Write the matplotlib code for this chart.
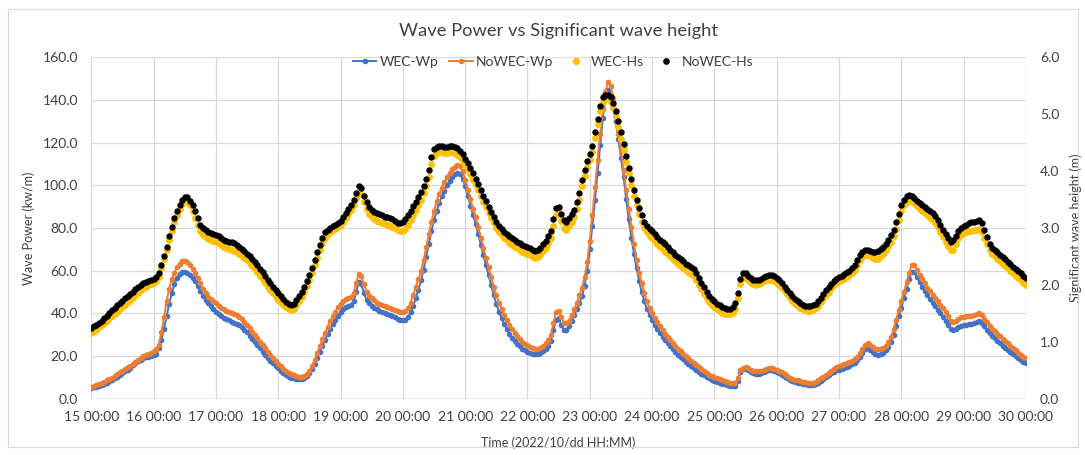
import numpy as np
import pandas as pd
import matplotlib
matplotlib.use("Agg")
import matplotlib.pyplot as plt
import matplotlib.dates as mdates
from matplotlib.lines import Line2D
from matplotlib.patches import Rectangle

plt.rcParams['font.family'] = ['Lato', 'DejaVu Sans']

# hourly series, 2022-10-15 00:00 .. 2022-10-30 00:00
wec_wp = [
    4.9, 5.2, 5.6, 6.0, 6.4, 6.9, 7.4, 8.0, 8.7, 9.5, 10.3, 11.1, 11.9, 12.7, 13.6, 14.5, 15.5, 16.5, 17.4, 18.2, 18.8, 19.3, 19.7, 20.0,
    20.3, 21.0, 23.5, 27.5, 32.5, 38.5, 44.5, 49.5, 53.5, 56.5, 58.3, 59.3, 59.5, 59.0, 57.8, 56.5, 55.0, 52.8, 50.5, 48.2, 46.3, 44.6, 43.2, 42.0,
    40.8, 39.5, 38.5, 37.7, 37.1, 36.6, 36.1, 35.6, 35.0, 34.3, 33.4, 32.3, 31.0, 29.5, 28.0, 26.5, 25.0, 23.5, 22.0, 20.6, 19.2, 17.8, 16.5, 15.3,
    14.1, 12.9, 11.8, 10.9, 10.2, 9.7, 9.4, 9.2, 9.1, 9.2, 9.6, 10.4, 11.8, 13.8, 16.4, 19.2, 22.0, 24.8, 27.6, 30.3, 32.8, 35.0, 37.0, 38.8,
    40.5, 42.0, 43.0, 43.5, 44.0, 45.5, 50.0, 54.5, 53.5, 49.5, 46.3, 44.7, 43.6, 42.6, 41.8, 41.1, 40.5, 40.0, 39.5, 39.0, 38.5, 38.0, 37.5, 37.0,
    36.7, 37.0, 38.3, 40.5, 43.5, 47.0, 51.0, 55.5, 60.5, 66.5, 72.5, 78.5, 83.5, 88.0, 91.8, 94.8, 97.5, 100.0, 102.0, 103.8, 105.2, 106.0, 105.5, 103.0,
    99.5, 95.0, 90.5, 86.0, 81.8, 77.2, 72.2, 67.2, 62.5, 57.8, 53.2, 48.6, 44.4, 40.8, 37.8, 35.0, 32.6, 30.4, 28.6, 27.0, 25.6, 24.4, 23.4, 22.6,
    22.0, 21.5, 21.1, 21.0, 21.0, 21.4, 22.1, 23.2, 24.6, 27.0, 32.0, 37.0, 37.8, 34.5, 32.2, 32.2, 34.0, 36.5, 39.0, 41.8, 44.8, 48.0, 53.0, 60.0,
    70.0, 81.0, 93.0, 106.0, 119.0, 131.5, 140.5, 144.7, 142.5, 137.0, 130.0, 121.5, 113.0, 104.0, 93.5, 84.0, 75.5, 68.0, 61.0, 55.0, 49.8, 45.5, 42.0, 39.2,
    36.8, 34.7, 32.7, 30.8, 29.0, 27.4, 25.9, 24.5, 23.1, 21.8, 20.6, 19.4, 18.3, 17.2, 16.2, 15.2, 14.3, 13.4, 12.5, 11.6, 10.8, 10.1, 9.5, 8.9,
    8.4, 7.9, 7.4, 7.0, 6.6, 6.2, 5.9, 5.7, 5.9, 8.0, 12.3, 13.7, 14.0, 13.4, 12.6, 12.0, 11.7, 11.6, 11.9, 12.4, 12.9, 13.2, 13.2, 13.0,
    12.6, 12.0, 11.2, 10.3, 9.5, 8.8, 8.3, 7.9, 7.5, 7.2, 6.9, 6.7, 6.5, 6.4, 6.5, 6.9, 7.5, 8.3, 9.2, 10.1, 11.0, 11.8, 12.6, 13.2,
    13.6, 14.0, 14.4, 14.9, 15.4, 16.0, 16.8, 17.9, 19.4, 21.3, 23.2, 23.7, 22.6, 21.6, 20.9, 20.6, 20.7, 21.3, 22.6, 24.2, 26.6, 29.8, 34.0, 38.5,
    42.5, 47.0, 51.5, 56.0, 59.3, 59.5, 57.0, 54.5, 52.5, 50.4, 48.4, 46.6, 44.9, 43.2, 41.6, 40.0, 38.3, 36.5, 34.5, 32.5, 32.0, 32.8, 33.6, 34.2,
    34.5, 34.7, 34.8, 35.0, 35.4, 35.9, 36.2, 35.2, 33.8, 32.2, 30.7, 29.4, 28.2, 27.0, 25.9, 24.8, 23.8, 22.8, 21.8, 20.8, 19.8, 18.9, 18.0, 17.3,
    16.7,
]

nowec_wp = [
    5.3, 5.8, 6.3, 6.8, 7.3, 7.9, 8.5, 9.1, 9.8, 10.6, 11.4, 12.2, 13.0, 13.8, 14.6, 15.4, 16.3, 17.2, 18.1, 19.0, 19.8, 20.5, 21.0, 21.5,
    22.3, 23.0, 25.0, 31.0, 38.0, 45.5, 51.5, 56.0, 59.0, 61.5, 63.2, 64.3, 64.7, 64.0, 62.5, 60.8, 59.0, 56.5, 54.0, 51.5, 49.5, 47.8, 46.5, 45.5,
    44.7, 43.6, 42.6, 41.8, 41.2, 40.7, 40.3, 39.8, 39.1, 38.2, 37.2, 36.0, 34.6, 33.0, 31.4, 29.8, 28.2, 26.6, 25.0, 23.5, 22.0, 20.5, 19.0, 17.7,
    16.4, 15.2, 14.0, 12.9, 12.0, 11.3, 10.8, 10.5, 10.3, 10.3, 10.6, 11.5, 13.0, 15.2, 18.1, 21.3, 24.5, 27.7, 30.7, 33.5, 36.2, 38.6, 40.8, 42.8,
    44.5, 45.8, 46.7, 47.3, 47.8, 49.5, 54.0, 58.5, 57.5, 53.5, 50.0, 48.2, 47.0, 46.0, 45.0, 44.3, 43.8, 43.3, 42.9, 42.5, 42.0, 41.5, 41.0, 40.7,
    40.5, 41.0, 42.5, 45.0, 48.5, 52.5, 56.0, 60.0, 65.0, 71.0, 77.0, 83.0, 88.0, 92.5, 96.0, 98.8, 101.5, 103.8, 105.8, 107.5, 108.8, 109.6, 109.0, 106.5,
    102.5, 98.0, 93.5, 89.0, 85.0, 80.5, 75.5, 70.5, 66.0, 61.5, 57.0, 52.5, 48.5, 45.0, 42.0, 39.3, 36.8, 34.5, 32.5, 30.7, 29.2, 27.8, 26.6, 25.7,
    25.0, 24.3, 23.7, 23.3, 23.3, 23.7, 24.5, 25.8, 27.5, 30.0, 35.5, 40.8, 41.0, 38.0, 35.5, 35.3, 36.5, 39.0, 42.0, 45.0, 48.5, 52.0, 57.0, 64.0,
    74.0, 86.0, 99.0, 112.0, 124.0, 136.0, 144.0, 148.3, 146.5, 141.0, 133.0, 124.0, 116.0, 107.0, 98.0, 89.0, 80.5, 72.5, 65.0, 59.0, 54.0, 49.5, 45.5, 42.5,
    40.0, 37.8, 35.8, 33.8, 32.0, 30.4, 28.8, 27.4, 26.0, 24.7, 23.4, 22.2, 21.0, 19.9, 18.8, 17.7, 16.6, 15.6, 14.6, 13.7, 12.8, 12.0, 11.2, 10.5,
    10.0, 9.5, 9.0, 8.6, 8.2, 7.8, 7.5, 7.3, 7.5, 9.5, 13.5, 14.5, 14.8, 14.3, 13.6, 13.0, 12.7, 12.7, 13.0, 13.5, 14.0, 14.3, 14.3, 14.0,
    13.6, 13.0, 12.2, 11.3, 10.5, 9.8, 9.3, 8.9, 8.5, 8.2, 7.9, 7.6, 7.4, 7.3, 7.4, 7.8, 8.5, 9.4, 10.3, 11.2, 12.1, 13.0, 13.9, 14.6,
    15.3, 15.7, 16.1, 16.6, 17.1, 17.7, 18.5, 19.6, 21.2, 23.2, 25.3, 26.0, 25.0, 24.0, 23.3, 23.0, 23.0, 23.5, 24.8, 26.5, 29.0, 32.5, 37.0, 41.5,
    45.5, 50.0, 54.5, 59.0, 62.5, 62.8, 60.5, 58.0, 56.0, 54.0, 52.0, 50.3, 48.7, 47.0, 45.5, 44.0, 42.3, 40.5, 38.5, 36.5, 35.8, 36.5, 37.4, 38.0,
    38.3, 38.5, 38.6, 38.8, 39.2, 39.7, 40.0, 39.0, 37.5, 35.8, 34.2, 32.8, 31.5, 30.3, 29.2, 28.1, 27.0, 25.9, 24.8, 23.7, 22.6, 21.5, 20.5, 19.6,
    18.8,
]

wec_hs = [
    1.15, 1.18, 1.21, 1.25, 1.29, 1.33, 1.37, 1.41, 1.45, 1.49, 1.53, 1.57, 1.61, 1.65, 1.69, 1.73, 1.77, 1.82, 1.86, 1.90, 1.94, 1.97, 1.99, 2.01,
    2.03, 2.07, 2.14, 2.29, 2.45, 2.62, 2.79, 2.95, 3.10, 3.22, 3.33, 3.42, 3.47, 3.46, 3.40, 3.30, 3.18, 3.05, 2.94, 2.88, 2.84, 2.81, 2.79, 2.77,
    2.75, 2.73, 2.70, 2.67, 2.65, 2.63, 2.62, 2.60, 2.57, 2.54, 2.50, 2.47, 2.43, 2.38, 2.33, 2.28, 2.22, 2.16, 2.10, 2.04, 1.97, 1.91, 1.85, 1.79,
    1.74, 1.69, 1.65, 1.61, 1.57, 1.55, 1.58, 1.64, 1.71, 1.79, 1.88, 1.98, 2.09, 2.21, 2.34, 2.48, 2.61, 2.73, 2.83, 2.89, 2.93, 2.96, 2.99, 3.02,
    3.06, 3.11, 3.17, 3.24, 3.32, 3.41, 3.52, 3.64, 3.60, 3.46, 3.33, 3.25, 3.20, 3.16, 3.13, 3.11, 3.09, 3.07, 3.06, 3.04, 3.02, 3.00, 2.97, 2.95,
    2.95, 2.99, 3.06, 3.14, 3.22, 3.31, 3.40, 3.50, 3.61, 3.74, 3.90, 4.12, 4.27, 4.32, 4.33, 4.33, 4.32, 4.32, 4.33, 4.33, 4.31, 4.28, 4.24, 4.18,
    4.10, 4.03, 3.95, 3.85, 3.75, 3.66, 3.56, 3.46, 3.36, 3.26, 3.17, 3.08, 3.00, 2.93, 2.87, 2.82, 2.78, 2.74, 2.70, 2.67, 2.64, 2.61, 2.58, 2.56,
    2.54, 2.52, 2.49, 2.48, 2.49, 2.53, 2.59, 2.65, 2.73, 2.83, 3.03, 3.23, 3.26, 3.12, 3.00, 2.97, 3.03, 3.11, 3.20, 3.33, 3.50, 3.73, 3.92, 4.08,
    4.20, 4.34, 4.58, 4.82, 5.05, 5.22, 5.27, 5.28, 5.22, 5.11, 4.96, 4.78, 4.57, 4.37, 4.16, 3.96, 3.76, 3.57, 3.40, 3.25, 3.11, 3.00, 2.92, 2.86,
    2.82, 2.77, 2.72, 2.67, 2.63, 2.58, 2.54, 2.50, 2.45, 2.41, 2.37, 2.33, 2.29, 2.26, 2.22, 2.19, 2.15, 2.08, 2.00, 1.92, 1.84, 1.77, 1.70, 1.65,
    1.61, 1.57, 1.54, 1.51, 1.49, 1.48, 1.48, 1.51, 1.58, 1.76, 2.02, 2.12, 2.13, 2.08, 2.04, 2.01, 2.00, 2.01, 2.03, 2.06, 2.08, 2.09, 2.09, 2.07,
    2.04, 2.00, 1.95, 1.89, 1.83, 1.77, 1.72, 1.67, 1.63, 1.60, 1.57, 1.55, 1.54, 1.54, 1.56, 1.59, 1.63, 1.69, 1.76, 1.82, 1.88, 1.94, 1.99, 2.03,
    2.06, 2.08, 2.11, 2.14, 2.17, 2.20, 2.26, 2.34, 2.43, 2.49, 2.52, 2.53, 2.50, 2.47, 2.45, 2.46, 2.50, 2.55, 2.61, 2.68, 2.76, 2.86, 2.99, 3.14,
    3.29, 3.40, 3.46, 3.49, 3.48, 3.44, 3.39, 3.34, 3.30, 3.26, 3.22, 3.18, 3.14, 3.08, 3.01, 2.93, 2.84, 2.76, 2.68, 2.62, 2.62, 2.72, 2.82, 2.88,
    2.91, 2.93, 2.94, 2.95, 2.96, 2.97, 2.99, 2.93, 2.83, 2.71, 2.61, 2.55, 2.50, 2.46, 2.42, 2.37, 2.33, 2.29, 2.24, 2.20, 2.16, 2.12, 2.08, 2.04,
    2.00,
]

nowec_hs = [
    1.24, 1.27, 1.30, 1.33, 1.37, 1.41, 1.45, 1.50, 1.55, 1.60, 1.64, 1.68, 1.72, 1.76, 1.80, 1.84, 1.88, 1.93, 1.97, 2.00, 2.03, 2.05, 2.06, 2.08,
    2.10, 2.14, 2.20, 2.35, 2.50, 2.67, 2.85, 3.02, 3.18, 3.30, 3.41, 3.50, 3.55, 3.54, 3.48, 3.40, 3.30, 3.18, 3.06, 3.00, 2.96, 2.93, 2.91, 2.89,
    2.87, 2.85, 2.82, 2.79, 2.77, 2.76, 2.75, 2.73, 2.70, 2.66, 2.63, 2.59, 2.55, 2.50, 2.45, 2.40, 2.34, 2.28, 2.22, 2.16, 2.09, 2.03, 1.97, 1.91,
    1.85, 1.80, 1.75, 1.70, 1.66, 1.64, 1.67, 1.73, 1.80, 1.88, 1.97, 2.07, 2.18, 2.30, 2.43, 2.57, 2.70, 2.82, 2.92, 2.97, 3.00, 3.03, 3.06, 3.09,
    3.13, 3.19, 3.26, 3.33, 3.41, 3.50, 3.62, 3.74, 3.70, 3.57, 3.45, 3.37, 3.32, 3.28, 3.26, 3.24, 3.22, 3.20, 3.19, 3.17, 3.15, 3.12, 3.09, 3.08,
    3.10, 3.15, 3.22, 3.30, 3.38, 3.46, 3.55, 3.64, 3.74, 3.86, 4.02, 4.25, 4.38, 4.43, 4.44, 4.44, 4.43, 4.43, 4.44, 4.44, 4.42, 4.40, 4.36, 4.30,
    4.22, 4.14, 4.06, 3.96, 3.86, 3.77, 3.67, 3.57, 3.47, 3.37, 3.28, 3.19, 3.11, 3.04, 2.98, 2.93, 2.89, 2.85, 2.82, 2.79, 2.76, 2.73, 2.70, 2.68,
    2.66, 2.64, 2.61, 2.60, 2.61, 2.65, 2.71, 2.77, 2.85, 2.95, 3.15, 3.35, 3.37, 3.25, 3.14, 3.11, 3.17, 3.24, 3.32, 3.45, 3.62, 3.85, 4.02, 4.17,
    4.30, 4.45, 4.68, 4.92, 5.15, 5.30, 5.34, 5.34, 5.30, 5.20, 5.05, 4.88, 4.68, 4.48, 4.27, 4.06, 3.86, 3.67, 3.50, 3.35, 3.22, 3.11, 3.03, 2.98,
    2.94, 2.89, 2.84, 2.79, 2.75, 2.71, 2.66, 2.62, 2.57, 2.53, 2.49, 2.45, 2.41, 2.37, 2.34, 2.31, 2.27, 2.20, 2.12, 2.04, 1.96, 1.88, 1.81, 1.75,
    1.71, 1.67, 1.64, 1.61, 1.59, 1.58, 1.58, 1.61, 1.68, 1.85, 2.10, 2.20, 2.20, 2.16, 2.12, 2.09, 2.08, 2.09, 2.11, 2.14, 2.16, 2.17, 2.17, 2.15,
    2.12, 2.08, 2.03, 1.97, 1.91, 1.85, 1.80, 1.75, 1.71, 1.68, 1.65, 1.63, 1.62, 1.62, 1.64, 1.67, 1.71, 1.77, 1.84, 1.90, 1.96, 2.02, 2.07, 2.11,
    2.14, 2.16, 2.19, 2.22, 2.25, 2.29, 2.35, 2.43, 2.52, 2.58, 2.61, 2.62, 2.59, 2.57, 2.57, 2.59, 2.63, 2.67, 2.72, 2.79, 2.87, 2.97, 3.10, 3.25,
    3.40, 3.50, 3.56, 3.58, 3.57, 3.53, 3.48, 3.44, 3.40, 3.37, 3.33, 3.30, 3.26, 3.21, 3.14, 3.06, 2.97, 2.89, 2.82, 2.76, 2.78, 2.86, 2.95, 3.00,
    3.03, 3.06, 3.08, 3.10, 3.11, 3.12, 3.14, 3.08, 2.96, 2.84, 2.72, 2.65, 2.61, 2.57, 2.53, 2.49, 2.45, 2.40, 2.36, 2.32, 2.28, 2.24, 2.20, 2.16,
    2.12,
]

series_names = ["WEC-Wp", "NoWEC-Wp", "WEC-Hs", "NoWEC-Hs"]
title = "Wave Power vs Significant wave height"
x_label = "Time (2022/10/dd HH:MM)"
y_label_left = "Wave Power (kw/m)"
y_label_right = "Significant wave height (m)"
start_time = "2022-10-15 00:00"
end_time = "2022-10-30 00:00"

times = pd.date_range(start_time, periods=len(nowec_wp), freq="h")

C_BLUE = "#4472C4"
C_ORANGE = "#ED7D31"
C_YELLOW = "#FFC000"
C_BLACK = "#000000"
C_GRID = "#D9D9D9"
C_TEXT = "#404040"

fig = plt.figure(figsize=(10.85, 4.55), dpi=100)
fig.patches.append(Rectangle((8 / 1085, 1 - 447 / 455), 1070 / 1085, 438 / 455,
                             transform=fig.transFigure, fill=False,
                             edgecolor=C_GRID, linewidth=0.8))

ax = fig.add_axes([91.3 / 1085, 1 - 398.5 / 455, (1026 - 91.3) / 1085, (398.5 - 57.4) / 455])
ax2 = ax.twinx()

ax.plot(times, wec_wp, color=C_BLUE, lw=1.4, marker="o", ms=3.0, mec=C_BLUE, mfc=C_BLUE, zorder=3)
ax.plot(times, nowec_wp, color=C_ORANGE, lw=1.4, marker="o", ms=3.0, mec=C_ORANGE, mfc=C_ORANGE, zorder=4)
ax2.plot(times, wec_hs, linestyle="none", marker="o", ms=3.9, mec=C_YELLOW, mfc=C_YELLOW, zorder=3)
ax2.plot(times, nowec_hs, linestyle="none", marker="o", ms=3.6, mec=C_BLACK, mfc=C_BLACK, zorder=4)

t0 = pd.Timestamp(start_time)
t1 = pd.Timestamp(end_time)
ax.set_xlim(t0, t1)
ax.set_ylim(0, 160)
ax2.set_ylim(0, 6)
ax.set_yticks(np.arange(0, 161, 20))
ax2.set_yticks(np.arange(0, 6.1, 1))
ax.yaxis.set_major_formatter(matplotlib.ticker.FormatStrFormatter("%.1f"))
ax2.yaxis.set_major_formatter(matplotlib.ticker.FormatStrFormatter("%.1f"))
ax.xaxis.set_major_locator(mdates.DayLocator())
ax.xaxis.set_major_formatter(mdates.DateFormatter("%d %H:%M"))

ax.grid(True, color=C_GRID, lw=0.9, zorder=0)
ax.set_axisbelow(True)
for a in (ax, ax2):
    for s in ("top", "left", "right", "bottom"):
        a.spines[s].set_visible(False)
ax.axhline(0, color="#BFBFBF", lw=1.0, zorder=1)

ax.tick_params(axis="y", length=0, pad=9.5, labelsize=10, labelcolor=C_TEXT)
ax.tick_params(axis="x", length=0, pad=9, labelsize=10, labelcolor=C_TEXT)
ax2.tick_params(axis="y", length=0, pad=10, labelsize=10, labelcolor=C_TEXT)

ax.set_xlabel(x_label, fontsize=9, color=C_TEXT)
ax.xaxis.set_label_coords(0.5, -0.112)
ax.set_ylabel(y_label_left, fontsize=9, color=C_TEXT)
ax.yaxis.set_label_coords(-0.060, 0.5)
ax2.set_ylabel(y_label_right, fontsize=9, color=C_TEXT)
ax2.yaxis.set_label_coords(1.047, 0.5)

ax.text(0.5, 1.078, title, transform=ax.transAxes, ha="center", va="center",
        fontsize=13.2, color=C_TEXT)

handles = [
    Line2D([], [], color=C_BLUE, lw=1.4, marker="o", ms=3.0),
    Line2D([], [], color=C_ORANGE, lw=1.4, marker="o", ms=3.0),
    Line2D([], [], linestyle="none", marker="o", ms=4.2, color=C_YELLOW),
    Line2D([], [], linestyle="none", marker="o", ms=3.8, color=C_BLACK),
]
fig.legend(handles, series_names, loc="center", bbox_to_anchor=(553 / 1085, 1 - 62 / 455),
           ncol=4, frameon=False, fontsize=10, handlelength=1.7, handletextpad=0.25,
           columnspacing=0.75, labelcolor=C_TEXT)

fig.savefig("out.png", dpi=100)
